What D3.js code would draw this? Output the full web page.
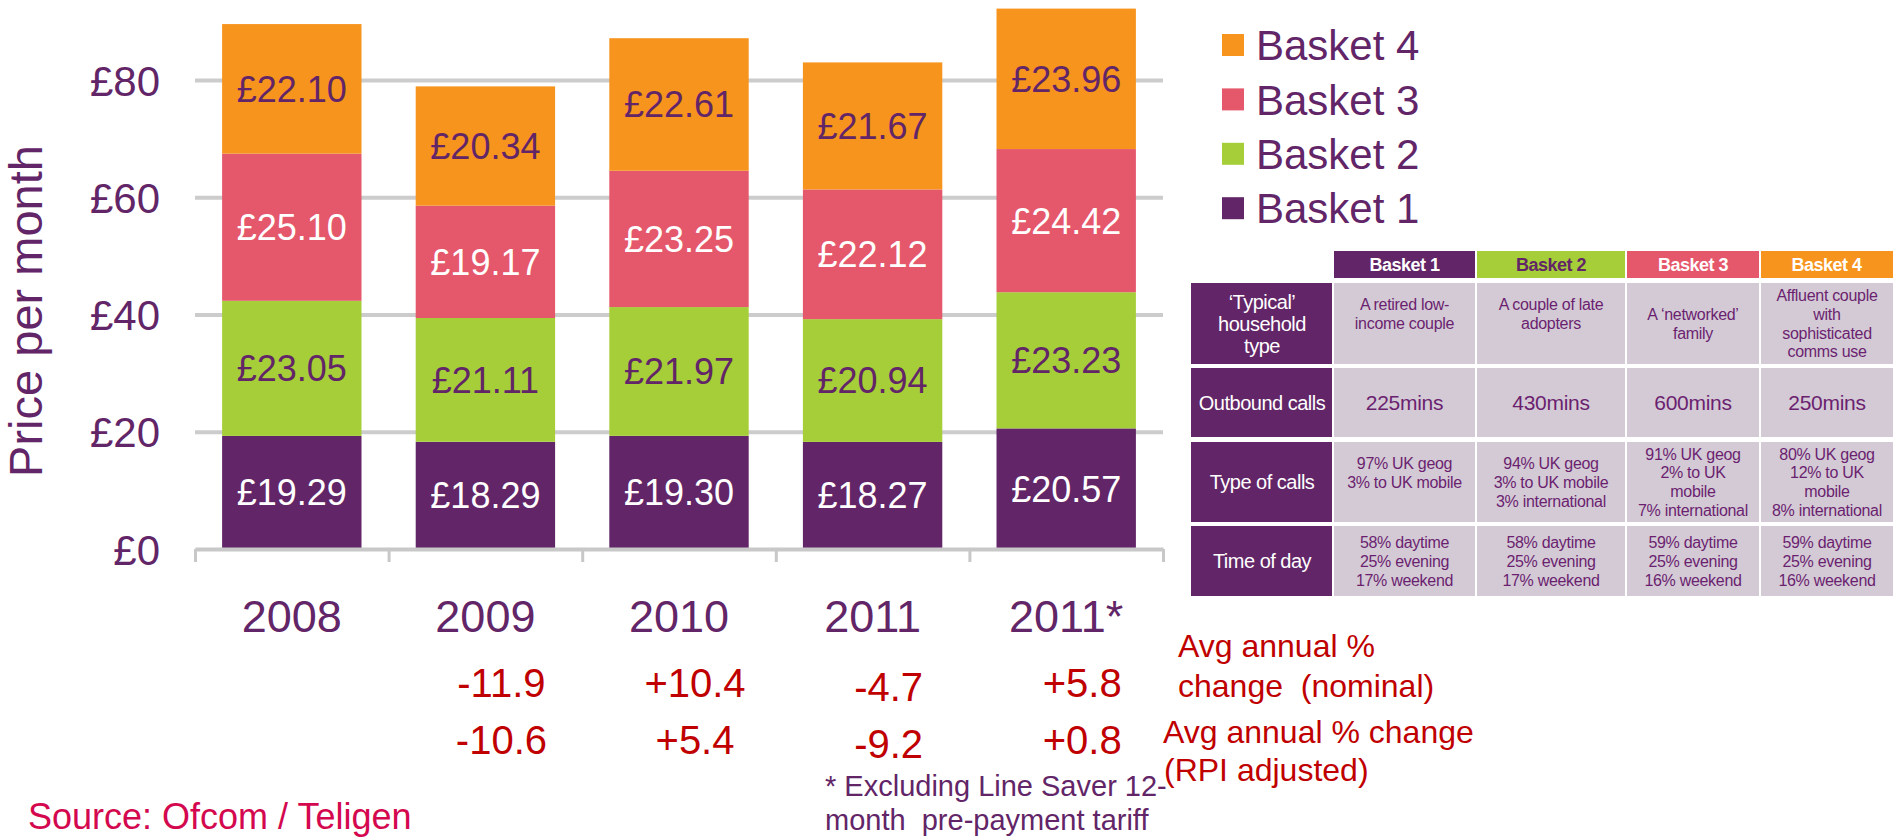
<!DOCTYPE html>
<html>
<head>
<meta charset="utf-8">
<script src="https://cdn.jsdelivr.net/npm/d3@7/dist/d3.min.js"></script>
<style>
  html, body { margin: 0; padding: 0; background: #ffffff; }
  svg { display: block; }
  text { font-family: "Liberation Sans", Arial, Helvetica, sans-serif; }
</style>
</head>
<body>
<svg id="chart" width="1893" height="838"></svg>
<script>
// ---- Data ----
const years = ["2008", "2009", "2010", "2011", "2011*"];
const seriesNames = ["Basket 1", "Basket 2", "Basket 3", "Basket 4"];
const basket1 = [19.29, 18.29, 19.30, 18.27, 20.57];
const basket2 = [23.05, 21.11, 21.97, 20.94, 23.23];
const basket3 = [25.10, 19.17, 23.25, 22.12, 24.42];
const basket4 = [22.10, 20.34, 22.61, 21.67, 23.96];
const nominalChange = ["", "-11.9", "+10.4", "-4.7", "+5.8"];
const rpiChange = ["", "-10.6", "+5.4", "-9.2", "+0.8"];
const yTicks = [0, 20, 40, 60, 80];

const tableRowLabels = [
  ["\u2018Typical\u2019", "household", "type"],
  ["Outbound calls"],
  ["Type of calls"],
  ["Time of day"]
];
const householdType = [
  ["A retired low-", "income couple", ""],
  ["A couple of late", "adopters", ""],
  ["A \u2018networked\u2019", "family"],
  ["Affluent couple", "with", "sophisticated", "comms use"]
];
const outboundCalls = [["225mins"], ["430mins"], ["600mins"], ["250mins"]];
const typeOfCalls = [
  ["97% UK geog", "3% to UK mobile", ""],
  ["94% UK geog", "3% to UK mobile", "3% international"],
  ["91% UK geog", "2% to UK", "mobile", "7% international"],
  ["80% UK geog", "12% to UK", "mobile", "8% international"]
];
const timeOfDay = [
  ["58% daytime", "25% evening", "17% weekend"],
  ["58% daytime", "25% evening", "17% weekend"],
  ["59% daytime", "25% evening", "16% weekend"],
  ["59% daytime", "25% evening", "16% weekend"]
];

// ---- Styles ----
const colors = ["#622567", "#a6ce39", "#e5576b", "#f7941d"];
const labelColors = ["#ffffff", "#622567", "#ffffff", "#622567"];
const purpleText = "#622567";
const red = "#c00000";
const gridGrey = "#cccccc";
const FONT = "'Liberation Sans', Arial, sans-serif";

const svg = d3.select("#chart");

// ---- Scales ----
const x = d3.scaleBand().domain(years).range([195, 1163]).paddingInner(0.28).paddingOuter(0.14);
const y = d3.scaleLinear().domain([0, 80]).range([549, 80]);

// ---- Gridlines + y tick labels ----
const yAxis = svg.append("g")
  .attr("transform", "translate(195,0)")
  .call(d3.axisLeft(y).tickValues(yTicks).tickSizeInner(-968).tickSizeOuter(0)
        .tickPadding(35).tickFormat(d => "\u00a3" + d));
yAxis.select(".domain").remove();
yAxis.selectAll(".tick line").attr("stroke", gridGrey).attr("stroke-width", 4)
  .attr("opacity", d => d === 0 ? 0 : 1);
yAxis.selectAll(".tick text")
  .attr("fill", purpleText).attr("font-size", 42).attr("font-family", FONT)
  .attr("dy", "0.36em");

// ---- Stacked bars ----
const rows = years.map((yr, i) => ({
  year: yr,
  "Basket 1": basket1[i], "Basket 2": basket2[i],
  "Basket 3": basket3[i], "Basket 4": basket4[i]
}));
const stacked = d3.stack().keys(seriesNames)(rows);

const layers = svg.append("g").selectAll("g").data(stacked).join("g")
  .attr("fill", (d, i) => colors[i]);
layers.selectAll("rect").data(d => d).join("rect")
  .attr("x", d => x(d.data.year))
  .attr("width", x.bandwidth())
  .attr("y", d => y(d[1]))
  .attr("height", d => y(d[0]) - y(d[1]));

// Value labels inside each segment
const labelLayers = svg.append("g").selectAll("g").data(stacked).join("g")
  .attr("fill", (d, i) => labelColors[i]);
labelLayers.selectAll("text").data(d => d.map(v => ({ v, key: d.key }))).join("text")
  .attr("x", d => x(d.v.data.year) + x.bandwidth() / 2)
  .attr("y", d => y((d.v[0] + d.v[1]) / 2))
  .attr("dy", "0.36em")
  .attr("text-anchor", "middle")
  .attr("font-size", 36)
  .text(d => "\u00a3" + d.v.data[d.key].toFixed(2));

// ---- Bottom axis with ticks on category boundaries ----
const boundary = d3.scaleLinear().domain([0, years.length]).range(x.range());
const xAxis = svg.append("g")
  .attr("transform", "translate(0,549)")
  .call(d3.axisBottom(boundary).tickValues(d3.range(years.length + 1))
        .tickSizeInner(13).tickSizeOuter(0).tickFormat(""));
xAxis.select(".domain").attr("stroke", "#c8c8c8").attr("stroke-width", 4);
xAxis.selectAll(".tick line").attr("stroke", "#c8c8c8").attr("stroke-width", 3);

// Category labels
svg.append("g").selectAll("text").data(years).join("text")
  .attr("x", d => x(d) + x.bandwidth() / 2)
  .attr("y", 616)
  .attr("dy", "0.36em")
  .attr("text-anchor", "middle")
  .attr("font-size", 45)
  .attr("fill", purpleText)
  .text(d => d);

// Annual % change rows
[nominalChange, rpiChange].forEach((vals, r) => {
  svg.append("g").selectAll("text").data(years).join("text")
    .attr("x", d => x(d) + x.bandwidth() / 2 + 16)
    .attr("y", (d, i) => (r === 0 ? 683 : 740) + (i === 3 ? 4 : 0))
    .attr("dy", "0.36em")
    .attr("text-anchor", "middle")
    .attr("font-size", 40)
    .attr("fill", red)
    .text((d, i) => vals[i]);
});

// Y axis title
svg.append("text")
  .attr("transform", "translate(42,311) rotate(-90)")
  .attr("text-anchor", "middle")
  .attr("font-size", 47)
  .attr("fill", purpleText)
  .text("Price per month");

// Row captions for the % changes
const capNominal = svg.append("text").attr("font-size", 32).attr("fill", red);
capNominal.append("tspan").attr("x", 1178).attr("y", 657).text("Avg annual %");
capNominal.append("tspan").attr("x", 1178).attr("y", 697).attr("xml:space", "preserve").text("change  (nominal)");
const capRpi = svg.append("text").attr("font-size", 32).attr("fill", red);
capRpi.append("tspan").attr("x", 1163).attr("y", 743).text("Avg annual % change");
capRpi.append("tspan").attr("x", 1164).attr("y", 781).text("(RPI adjusted)");

// Footnote
const foot = svg.append("text").attr("font-size", 29).attr("fill", purpleText);
foot.append("tspan").attr("x", 825).attr("y", 796).text("* Excluding Line Saver 12-");
foot.append("tspan").attr("x", 825).attr("y", 830).attr("xml:space", "preserve").text("month  pre-payment tariff");

// Source
svg.append("text").attr("x", 28).attr("y", 829)
  .attr("font-size", 36).attr("fill", "#d4084e")
  .text("Source: Ofcom / Teligen");

// ---- Legend (top to bottom: Basket 4 .. Basket 1) ----
const legendOrder = seriesNames.map((n, i) => ({ name: n, color: colors[i] })).reverse();
const legend = svg.append("g").selectAll("g").data(legendOrder).join("g")
  .attr("transform", (d, i) => `translate(1222,${45 + i * 54.4})`);
legend.append("rect").attr("x", 0).attr("y", -11).attr("width", 22).attr("height", 22)
  .attr("fill", d => d.color);
legend.append("text").attr("x", 34).attr("y", 0).attr("dy", "0.36em")
  .attr("font-size", 42).attr("fill", purpleText).text(d => d.name);

// ---- Basket description table ----
const colEdges = [1191, 1333, 1476, 1626, 1760, 1900];
const headTop = 251, headBottom = 278;
const rowEdges = [[283, 364], [368, 437], [442, 522], [526, 596]];
const cellFill = "#d3cad6";
const cellText = "#6b1f6f";
const table = svg.append("g");

// header cells
const heads = table.selectAll("g.head").data(seriesNames).join("g").attr("class", "head");
heads.append("rect")
  .attr("x", (d, i) => colEdges[i + 1] + 1)
  .attr("y", headTop)
  .attr("width", (d, i) => colEdges[i + 2] - colEdges[i + 1] - 2)
  .attr("height", headBottom - headTop)
  .attr("fill", (d, i) => colors[i]);
heads.append("text")
  .attr("x", (d, i) => (colEdges[i + 1] + Math.min(colEdges[i + 2], 1893)) / 2)
  .attr("y", (headTop + headBottom) / 2)
  .attr("dy", "0.36em")
  .attr("text-anchor", "middle")
  .attr("font-size", 18).attr("font-weight", "bold").attr("letter-spacing", -0.5)
  .attr("fill", (d, i) => i === 1 ? purpleText : "#ffffff")
  .text(d => d);

const tableBody = [householdType, outboundCalls, typeOfCalls, timeOfDay];

function multiline(sel, lines, cx, cy, lh) {
  const n = lines.length;
  lines.forEach((ln, k) => {
    sel.append("tspan").attr("x", cx).attr("y", cy + (k - (n - 1) / 2) * lh).attr("dy", "0.36em").text(ln);
  });
}

rowEdges.forEach((re, r) => {
  const cy = (re[0] + re[1]) / 2;
  // row label cell
  table.append("rect").attr("x", colEdges[0]).attr("y", re[0])
    .attr("width", colEdges[1] - colEdges[0] - 1).attr("height", re[1] - re[0])
    .attr("fill", colors[0]);
  const lt = table.append("text").attr("text-anchor", "middle")
    .attr("font-size", 20).attr("letter-spacing", -0.5).attr("fill", "#ffffff");
  multiline(lt, tableRowLabels[r], (colEdges[0] + colEdges[1]) / 2, cy, 22);
  // data cells
  tableBody[r].forEach((lines, c) => {
    const x0 = colEdges[c + 1] + 1, x1 = colEdges[c + 2] - 1;
    table.append("rect").attr("x", x0).attr("y", re[0])
      .attr("width", x1 - x0).attr("height", re[1] - re[0]).attr("fill", cellFill);
    const t = table.append("text").attr("text-anchor", "middle")
      .attr("font-size", r === 1 ? 21 : 16).attr("letter-spacing", -0.3)
      .attr("fill", cellText);
    multiline(t, lines, (x0 + Math.min(x1, 1893)) / 2, cy, 18.8);
  });
});
</script>
</body>
</html>
